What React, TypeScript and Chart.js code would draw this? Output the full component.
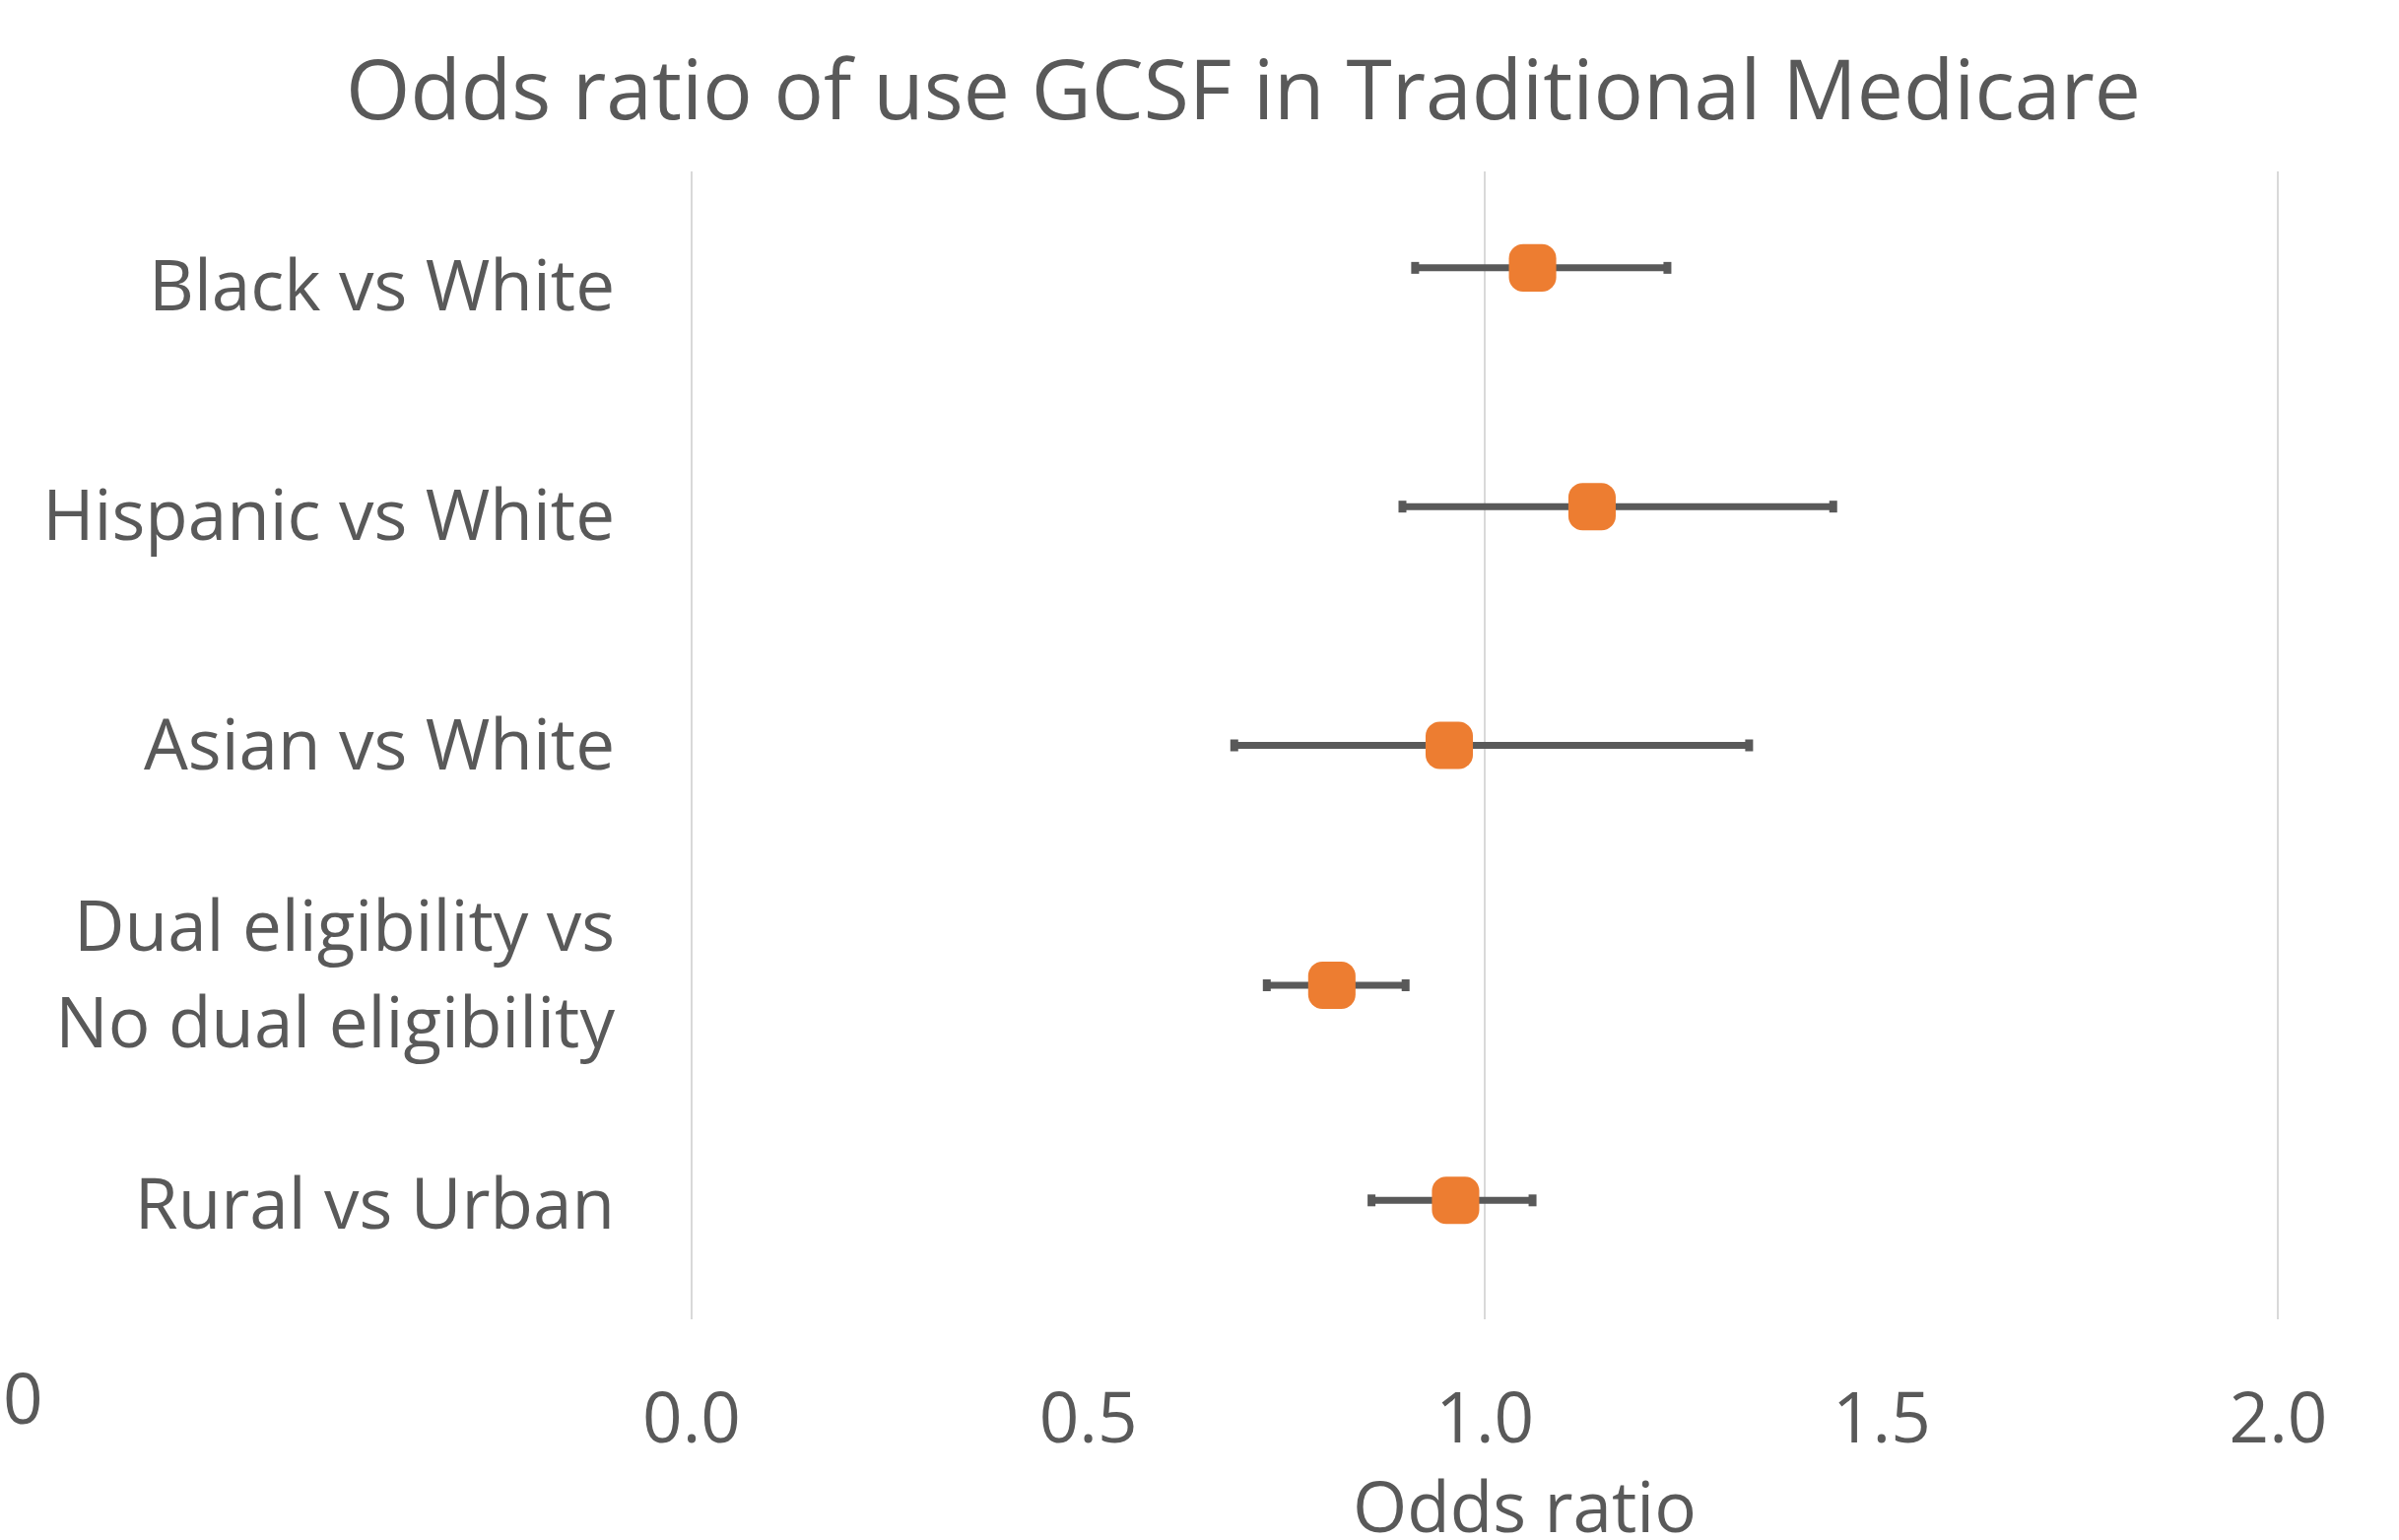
import React, { useEffect, useRef } from 'react';
import { Chart, registerables } from 'chart.js';

Chart.register(...registerables);

// ---- data ----
const TITLE = 'Odds ratio of use GCSF in Traditional Medicare';
const X_TITLE = 'Odds ratio';
const CATEGORIES: (string | string[])[] = [
  'Black vs White',
  'Hispanic vs White',
  'Asian vs White',
  ['Dual eligibility vs', 'No dual eligibility'],
  'Rural vs Urban',
];
const ODDS = [1.06, 1.135, 0.955, 0.807, 0.963];
const LOWER = [0.912, 0.896, 0.684, 0.725, 0.857];
const UPPER = [1.23, 1.439, 1.333, 0.9, 1.06];
const ROW_Y = [4.58, 3.54, 2.5, 1.455, 0.518];
const X_MIN = 0;
const X_MAX = 2.1;
const X_STEP = 0.5;
const STRAY_LABEL = '0';

// ---- style ----
const TEXT = '#595959';
const ORANGE = '#ED7D31';
const BAR = '#595959';
const GRID = '#D9D9D9';
const FONT = "'Open Sans'";

const W = 2435;
const H = 1563;

const textPlugin = {
  id: 'extraText',
  afterDraw(chart: any) {
    const ctx = chart.ctx;
    ctx.save();
    ctx.fillStyle = TEXT;
    // chart title
    ctx.font = `84px ${FONT}`;
    ctx.textAlign = 'center';
    ctx.textBaseline = 'middle';
    ctx.fillText(TITLE, 1262, 97);
    // stray axis label at far left
    ctx.font = `71px ${FONT}`;
    ctx.textAlign = 'left';
    ctx.textBaseline = 'middle';
    ctx.fillText(STRAY_LABEL, 3, 1425);
    ctx.restore();
  },
};

export default function App() {
  const ref = useRef<HTMLCanvasElement | null>(null);

  useEffect(() => {
    if (!ref.current) return;
    const errorSets = CATEGORIES.map((_, i) => ({
      type: 'line' as const,
      label: 'ci' + i,
      data: [
        { x: LOWER[i], y: ROW_Y[i] },
        { x: UPPER[i], y: ROW_Y[i] },
      ],
      showLine: true,
      borderColor: BAR,
      borderWidth: 7,
      pointStyle: 'line',
      pointRotation: 90,
      pointRadius: 6,
      pointHoverRadius: 6,
      pointBorderWidth: 8,
      pointBorderColor: BAR,
      pointBackgroundColor: BAR,
      order: 1,
      xAxisID: 'x',
      yAxisID: 'y',
    }));
    const markerSet = {
      type: 'scatter' as const,
      label: 'odds',
      data: ODDS.map((v, i) => ({ x: v, y: ROW_Y[i] })),
      showLine: false,
      pointStyle: 'rectRounded',
      pointRadius: 28,
      pointHoverRadius: 28,
      pointBackgroundColor: ORANGE,
      pointBorderWidth: 0,
      borderWidth: 0,
      order: 0,
      xAxisID: 'x',
      yAxisID: 'y',
    };

    const chart = new Chart(ref.current, {
      type: 'scatter',
      data: { datasets: [...errorSets, markerSet] as any },
      options: {
        responsive: false,
        animation: false,
        devicePixelRatio: 1,
        layout: { padding: { left: 0, right: 42, top: 174, bottom: 0 } },
        plugins: {
          legend: { display: false },
          tooltip: { enabled: false },
          title: { display: false },
        },
        scales: {
          x: {
            type: 'linear',
            position: 'bottom',
            min: X_MIN,
            max: X_MAX,
            afterFit: (s: any) => {
              s.height = 224;
            },
            ticks: {
              stepSize: X_STEP,
              includeBounds: false,
              color: TEXT,
              padding: 62,
              font: { family: FONT, size: 71, lineHeight: 1.2 },
              callback: (v: any) => Number(v).toFixed(1),
              maxRotation: 0,
              autoSkip: false,
            },
            grid: {
              drawTicks: false,
              lineWidth: 2,
              color: (c: any) =>
                c.tick && Number.isInteger(Math.round(c.tick.value * 1000) / 1000)
                  ? GRID
                  : 'rgba(0,0,0,0)',
            },
            border: { display: false },
            title: {
              display: true,
              text: X_TITLE,
              color: TEXT,
              font: { family: FONT, size: 71, lineHeight: 1 },
              padding: { top: 0, bottom: -7 },
            },
          },
          y: {
            type: 'linear',
            display: false,
            min: 0,
            max: 5,
          },
          yCat: {
            type: 'category',
            axis: 'y',
            position: 'left',
            labels: CATEGORIES as any,
            offset: true,
            afterFit: (s: any) => {
              s.width = 702;
            },
            grid: { display: false, drawTicks: false },
            border: { display: false },
            ticks: {
              color: TEXT,
              padding: 78,
              labelOffset: 4,
              font: { family: FONT, size: 71, lineHeight: 1.38 },
              autoSkip: false,
            },
          },
        } as any,
      },
      plugins: [textPlugin],
    } as any);

    return () => chart.destroy();
  }, []);

  return (
    <div style={{ position: 'fixed', left: 0, top: 0, width: W, height: H, background: '#fff' }}>
      <canvas ref={ref} width={W} height={H} style={{ display: 'block', width: W, height: H }} />
    </div>
  );
}
